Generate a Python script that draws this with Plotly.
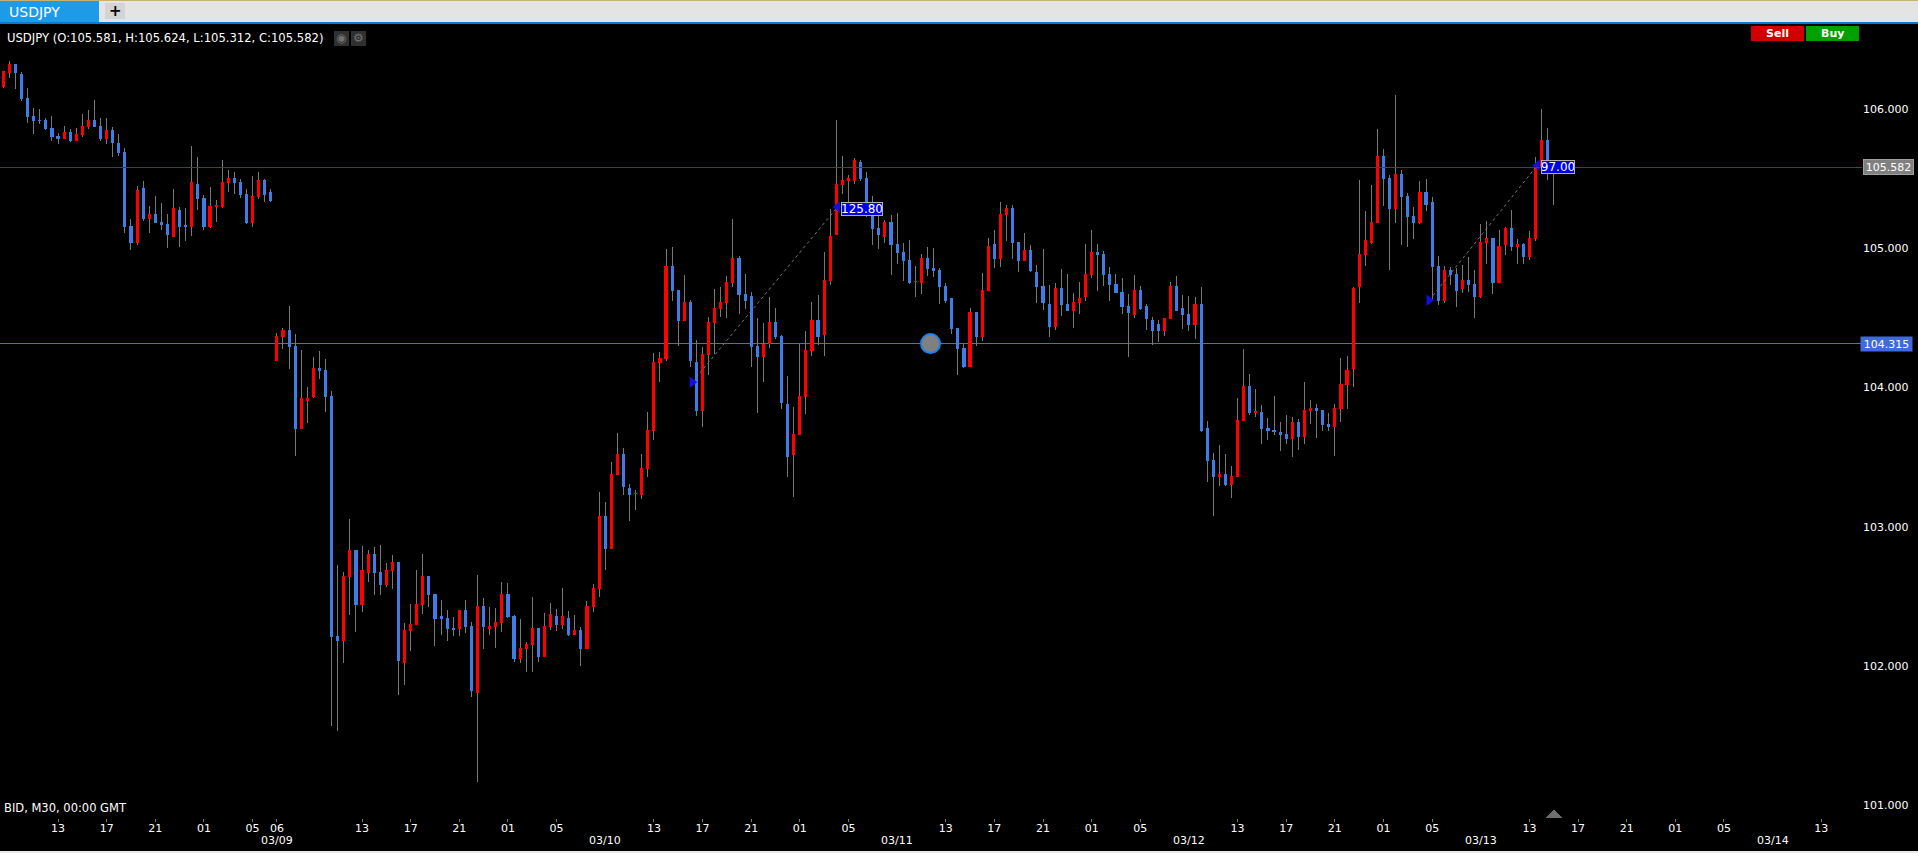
import plotly.graph_objects as go

SYMBOL = "USDJPY"
HEADER = "USDJPY (O:105.581, H:105.624, L:105.312, C:105.582)"
FOOTER = "BID, M30, 00:00 GMT"
last_price = 105.582
cross_price = 104.315

opens = [
106.165,106.266,106.323,106.251,106.079,105.950,105.921,105.921,105.863,105.806,
105.792,105.835,105.777,105.820,105.878,105.921,105.878,105.792,105.849,105.749,
105.691,105.159,105.044,105.432,105.217,105.246,105.188,105.174,105.088,105.274,
105.164,105.159,105.461,105.361,105.159,105.303,105.303,105.475,105.504,105.475,
105.389,105.188,105.375,105.490,105.404,
104.197,104.369,104.412,104.297,103.708,103.909,103.938,104.139,104.125,103.938,
102.214,102.185,102.645,102.831,102.443,102.673,102.803,102.673,102.587,102.688,
102.745,102.027,102.257,102.300,102.443,102.645,102.515,102.357,102.343,102.271,
102.271,102.400,102.285,101.811,102.429,102.271,102.285,102.314,102.515,102.357,
102.055,102.127,102.156,102.271,102.070,102.285,102.357,102.300,102.343,102.228,
102.257,102.127,102.429,102.558,103.076,102.846,103.377,103.521,103.277,103.236,
103.234,103.421,103.694,104.182,104.211,104.872,104.700,104.484,104.613,104.182,
103.837,104.240,104.470,104.570,104.613,104.757,104.929,104.671,104.656,104.297,
104.225,104.316,104.470,104.369,103.880,103.521,103.665,103.938,104.268,104.484,
104.383,104.771,105.102,105.461,105.490,105.490,105.619,105.504,105.250,105.145,
105.088,105.188,105.030,104.973,104.915,104.759,104.757,104.929,104.858,104.843,
104.728,104.642,104.426,104.283,104.153,104.541,104.369,104.700,105.030,104.929,
105.246,105.289,105.044,104.915,104.987,104.829,104.728,104.599,104.441,104.714,
104.599,104.556,104.613,104.656,104.814,104.973,104.958,104.814,104.743,104.685,
104.585,104.527,104.700,104.585,104.484,104.455,104.412,104.498,104.728,104.570,
104.527,104.455,104.599,103.708,103.478,103.363,103.377,103.306,103.363,103.765,
104.010,103.823,103.823,103.708,103.694,103.679,103.665,103.636,103.751,103.651,
103.837,103.852,103.837,103.737,103.722,103.852,104.024,104.139,104.728,104.958,
105.044,105.188,105.662,105.504,105.289,105.533,105.375,105.231,105.188,105.404,
105.332,104.872,104.628,104.843,104.814,104.714,104.771,104.743,104.656,105.044,
105.073,104.757,105.030,105.145,105.016,105.030,104.944,105.073,105.590,105.777,
105.581]

closes = [
106.268,106.323,106.266,106.079,105.950,105.921,105.916,105.863,105.806,105.792,
105.835,105.777,105.820,105.878,105.921,105.878,105.792,105.849,105.763,105.691,
105.159,105.044,105.418,105.217,105.246,105.188,105.174,105.102,105.289,105.159,
105.159,105.475,105.361,105.159,105.303,105.308,105.475,105.504,105.475,105.389,
105.188,105.375,105.490,105.389,105.346,
104.369,104.412,104.297,103.708,103.924,103.924,104.139,104.125,103.938,102.214,
102.185,102.645,102.831,102.443,102.688,102.803,102.673,102.587,102.688,102.745,
102.041,102.257,102.300,102.443,102.645,102.515,102.343,102.343,102.271,102.264,
102.400,102.285,101.825,102.429,102.285,102.285,102.314,102.515,102.357,102.055,
102.127,102.156,102.271,102.070,102.285,102.372,102.300,102.357,102.228,102.257,
102.127,102.429,102.558,103.076,102.846,103.377,103.521,103.291,103.234,103.241,
103.421,103.694,104.182,104.211,104.872,104.700,104.484,104.613,104.197,103.837,
104.240,104.470,104.570,104.613,104.757,104.929,104.671,104.628,104.297,104.225,
104.312,104.470,104.369,103.895,103.507,103.665,103.938,104.268,104.484,104.369,
104.771,105.088,105.461,105.490,105.504,105.634,105.504,105.250,105.145,105.102,
105.188,105.030,104.973,104.915,104.757,104.764,104.929,104.858,104.843,104.728,
104.628,104.426,104.283,104.153,104.541,104.369,104.700,105.016,104.929,105.246,
105.289,105.044,104.915,104.987,104.843,104.728,104.613,104.441,104.714,104.599,
104.556,104.613,104.642,104.814,104.973,104.958,104.814,104.743,104.685,104.585,
104.541,104.700,104.570,104.498,104.412,104.412,104.498,104.728,104.556,104.527,
104.455,104.599,103.694,103.478,103.363,103.377,103.306,103.363,103.765,104.010,
103.823,103.828,103.708,103.694,103.686,103.665,103.636,103.751,103.651,103.837,
103.852,103.837,103.737,103.722,103.852,104.024,104.125,104.714,104.958,105.059,
105.188,105.662,105.504,105.289,105.533,105.375,105.231,105.188,105.404,105.317,
104.872,104.628,104.843,104.814,104.700,104.771,104.743,104.656,105.044,105.073,
104.757,105.016,105.145,105.016,105.030,104.944,105.073,105.590,105.777,105.581,
105.582]

highs = [
106.273,106.345,106.323,106.266,106.148,106.007,106.000,105.935,105.950,105.825,
105.878,105.854,105.863,105.964,105.993,106.065,105.935,105.935,105.871,105.818,
105.717,105.210,105.447,105.483,105.303,105.375,105.325,105.246,105.425,105.296,
105.289,105.734,105.655,105.382,105.440,105.346,105.634,105.562,105.547,105.497,
105.425,105.519,105.547,105.497,105.425,
104.391,104.426,104.585,104.383,104.268,104.003,104.218,104.261,104.204,103.974,
102.724,102.673,103.054,102.831,102.860,102.831,102.853,102.867,102.738,102.795,
102.745,102.307,102.443,102.688,102.803,102.645,102.515,102.472,102.400,102.350,
102.400,102.472,102.314,102.652,102.487,102.422,102.415,102.601,102.594,102.364,
102.336,102.170,102.494,102.271,102.379,102.451,102.407,102.558,102.393,102.364,
102.278,102.465,102.587,103.248,103.176,103.464,103.672,103.564,103.306,103.262,
103.521,103.823,104.247,104.254,104.994,105.008,104.700,104.807,104.628,104.340,
104.290,104.506,104.707,104.721,104.800,105.210,104.944,104.814,104.685,104.498,
104.462,104.649,104.570,104.376,104.082,103.859,104.312,104.405,104.613,104.664,
104.973,105.281,105.921,105.662,105.526,105.648,105.634,105.547,105.375,105.238,
105.202,105.238,105.253,105.037,105.059,104.872,104.958,105.008,105.001,104.858,
104.750,104.642,104.426,104.319,104.570,104.541,104.822,105.073,105.131,105.332,
105.310,105.310,105.044,105.109,105.023,104.879,104.994,104.735,104.750,104.850,
104.814,104.678,104.757,105.030,105.131,105.030,104.980,104.865,104.814,104.786,
104.671,104.807,104.728,104.599,104.506,104.484,104.498,104.757,104.800,104.664,
104.656,104.649,104.721,103.758,103.528,103.586,103.521,103.435,103.924,104.276,
104.096,103.988,103.873,103.780,103.938,103.751,103.801,103.787,103.773,104.039,
103.909,103.880,103.837,103.816,103.880,104.211,104.225,104.721,105.490,105.267,
105.454,105.856,105.713,105.526,106.101,105.562,105.396,105.296,105.483,105.497,
105.368,104.944,104.872,104.865,104.858,104.879,104.937,104.843,105.174,105.195,
105.073,105.131,105.152,105.274,105.066,105.037,105.123,105.655,106.000,105.863,
105.624]

lows = [
106.151,106.223,106.144,106.057,105.899,105.820,105.892,105.849,105.770,105.749,
105.784,105.763,105.777,105.799,105.856,105.871,105.770,105.749,105.655,105.662,
105.109,104.987,105.023,105.195,105.109,105.188,105.131,105.001,105.088,105.008,
105.052,105.088,105.274,105.131,105.145,105.188,105.289,105.404,105.389,105.361,
105.174,105.152,105.353,105.332,105.332,
104.197,104.276,104.132,103.507,103.708,103.744,103.924,104.060,103.823,101.567,
101.531,102.020,102.364,102.242,102.386,102.601,102.508,102.508,102.566,102.551,
101.790,101.861,102.106,102.300,102.372,102.422,102.142,102.221,102.178,102.214,
102.214,102.235,101.775,101.164,102.120,102.221,102.127,102.242,102.343,102.027,
102.020,101.955,101.955,102.027,102.070,102.257,102.249,102.264,102.214,102.221,
101.998,102.120,102.386,102.494,102.688,102.846,103.377,103.227,103.040,103.119,
103.198,103.356,103.622,104.039,104.189,104.620,104.297,104.484,104.146,103.794,
103.715,104.089,104.240,104.506,104.498,104.721,104.527,104.563,104.146,103.816,
104.039,104.283,104.347,103.844,103.356,103.212,103.658,103.809,104.225,104.304,
104.225,104.735,105.102,105.389,105.322,105.461,105.483,105.226,105.023,104.994,
105.037,104.807,104.886,104.764,104.743,104.649,104.671,104.800,104.793,104.599,
104.606,104.383,104.089,104.139,104.153,104.297,104.333,104.700,104.858,104.865,
105.052,104.922,104.829,104.908,104.829,104.606,104.556,104.362,104.412,104.513,
104.556,104.426,104.527,104.620,104.786,104.692,104.728,104.620,104.678,104.527,
104.218,104.498,104.556,104.412,104.304,104.326,104.369,104.498,104.556,104.419,
104.405,104.347,103.679,103.320,103.076,103.291,103.291,103.205,103.363,103.758,
103.801,103.787,103.593,103.622,103.658,103.543,103.593,103.500,103.550,103.593,
103.737,103.636,103.686,103.686,103.507,103.751,103.844,104.003,104.606,104.872,
105.030,105.181,105.303,104.843,105.179,105.023,105.008,105.066,105.174,105.267,
104.628,104.592,104.606,104.735,104.577,104.678,104.685,104.498,104.642,104.886,
104.671,104.757,104.951,104.980,104.886,104.886,104.915,105.052,105.581,105.490,
105.312]

hour_ticks = [9,17,25,33,41,45,59,67,75,83,91,107,115,123,131,139,155,163,171,179,187,
              203,211,219,227,235,251,259,267,275,283,299]
hour_labels = ["13","17","21","01","05","06","13","17","21","01","05","13","17","21","01","05",
               "13","17","21","01","05","13","17","21","01","05","13","17","21","01","05","13"]
date_ticks = [45,99,147,195,243,291]
date_labels = ["03/09","03/10","03/11","03/12","03/13","03/14"]
price_ticks = [101,102,103,104,105,106]
price_labels = ["101.000","102.000","103.000","104.000","105.000","106.000"]

measure_a_x = [113.3, 137.2]
measure_a_y = [104.038, 105.296]
measure_a_label = "125.80"
measure_b_x = [234.5, 252.3]
measure_b_y = [104.626, 105.596]
measure_b_label = "97.00"
crosshair_x = [152.5]

W, H = 1918, 853
PL, PR, PT, PB = 0, 1862, 24, 818
FONT = "DejaVu Sans"
RED, BLUE, WICK = "#ff0000", "#3f7de6", "#787878"

def px(x):
    return (x - PL) / (PR - PL)

def py(y):
    return (PB - y) / (PB - PT)

xs = list(range(len(opens)))
body_hi = [max(a, b) for a, b in zip(opens, closes)]
body_lo = [min(a, b) for a, b in zip(opens, closes)]

fig = go.Figure()
fig.add_trace(go.Candlestick(
    x=xs, open=opens, high=highs, low=lows, close=closes,
    increasing=dict(line=dict(color=WICK, width=1), fillcolor=WICK),
    decreasing=dict(line=dict(color=WICK, width=1), fillcolor=WICK),
    hoverinfo="skip", showlegend=False))
fig.add_trace(go.Candlestick(
    x=xs, open=opens, high=body_hi, low=body_lo, close=closes,
    increasing=dict(line=dict(color=RED, width=1), fillcolor=RED),
    decreasing=dict(line=dict(color=BLUE, width=1), fillcolor=BLUE),
    hoverinfo="skip", showlegend=False))

for mx, my in ((measure_a_x, measure_a_y), (measure_b_x, measure_b_y)):
    fig.add_trace(go.Scatter(x=mx, y=my, mode="lines",
                             line=dict(color="#777777", width=1, dash="dot"),
                             hoverinfo="skip", showlegend=False))
    fig.add_trace(go.Scatter(x=mx, y=my, mode="markers",
                             marker=dict(symbol=["triangle-right", "triangle-left"], size=10,
                                         color="#1010e0"),
                             hoverinfo="skip", showlegend=False))

fig.add_trace(go.Scatter(x=crosshair_x, y=[cross_price], mode="markers",
                         marker=dict(size=19, color="#808080",
                                     line=dict(color="#1e80e8", width=2)),
                         hoverinfo="skip", showlegend=False))

def rect(x0, y0, x1, y1, color, layer="above", line=None):
    return dict(type="rect", xref="paper", yref="paper", x0=px(x0), x1=px(x1), y0=py(y0), y1=py(y1),
                fillcolor=color, line=dict(width=0) if line is None else dict(color=line, width=1),
                layer=layer)

shapes = [
    dict(type="line", xref="paper", yref="y", x0=0, x1=1, y0=last_price, y1=last_price,
         line=dict(color="#d80000", width=1), layer="above"),
    dict(type="line", xref="paper", yref="y", x0=0, x1=1, y0=cross_price, y1=cross_price,
         line=dict(color="#3f6fd8", width=1), layer="below"),
    rect(0, 0, W, 22, "#e4e4e4"),
    rect(0, 0, W, 1, "#c8b070"),
    rect(0, 22, W, 24, "#0a7ad0"),
    rect(0, 1, 99, 22, "#1e9be8"),
    rect(105, 3, 125, 19, "#d4d4d4"),
    rect(1751, 26, 1804, 41, "#d00000"),
    rect(1806, 26, 1859, 41, "#00a000"),
    rect(334, 31, 349, 46, "#303030"),
    rect(351, 31, 366, 46, "#303030"),
    rect(0, 851, W, 853, "#e8e8e8"),
    dict(type="path", xref="paper", yref="paper",
         path=f"M {px(1546)} {py(818)} L {px(1562)} {py(818)} L {px(1554)} {py(809)} Z",
         fillcolor="#6e6e6e", line=dict(width=0)),
]

def label(text, cx, cy, size=11, color="#ffffff", **kw):
    return dict(text=text, xref="paper", yref="paper", x=px(cx), y=py(cy), showarrow=False,
                xanchor="center", yanchor="middle",
                font=dict(family=FONT, size=size, color=color), **kw)

annotations = [
    label(SYMBOL, 34, 12, size=14),
    label("<b>+</b>", 115, 11, size=15, color="#000000"),
    label(HEADER, 165, 38, size=11.6),
    label("<b>Sell</b>", 1777, 33, size=11),
    label("<b>Buy</b>", 1832, 33, size=11),
    label("◉", 341, 38, size=12, color="#707070"),
    label("⚙", 358, 38, size=12, color="#707070"),
    label(FOOTER, 65, 808, size=11.5),
    label(measure_a_label, 862, 209, size=12, bgcolor="#0000f0", bordercolor="#b0b0b0", borderwidth=1,
          width=40, height=12, borderpad=0),
    label(measure_b_label, 1558, 167, size=12, bgcolor="#0000f0", bordercolor="#b0b0b0", borderwidth=1,
          width=32, height=12, borderpad=0),
    label(f"{last_price:.3f}", 1888.5, 167, bgcolor="#808080", bordercolor="#a0a0a0", borderwidth=1,
          width=49, height=14, borderpad=0),
    label(f"{cross_price:.3f}", 1886.5, 344, bgcolor="#4169e1", width=51, height=14, borderpad=0),
]
for t, text in zip(date_ticks, date_labels):
    annotations.append(dict(text=text, xref="x", yref="paper", x=t, y=py(841), showarrow=False,
                            xanchor="center", yanchor="middle",
                            font=dict(family=FONT, size=11, color="#ffffff")))

fig.update_layout(
    width=W, height=H, autosize=False,
    margin=dict(l=PL, r=W - PR, t=PT, b=H - PB, pad=0),
    paper_bgcolor="#000000", plot_bgcolor="#000000",
    boxgap=0.5,
    showlegend=False,
    shapes=shapes, annotations=annotations,
    font=dict(family=FONT, size=11, color="#ffffff"),
    xaxis=dict(range=[-0.543, 305.7], rangeslider=dict(visible=False), showgrid=False, zeroline=False,
               showline=False, tickmode="array", tickvals=hour_ticks, ticktext=hour_labels,
               ticks="outside", ticklen=3, tickwidth=1, tickcolor="#777777", ticklabelstandoff=-3,
               tickfont=dict(family=FONT, size=11, color="#ffffff"), tickangle=0),
    yaxis=dict(range=[100.907, 106.611], side="right", showgrid=False, zeroline=False, showline=False,
               tickmode="array", tickvals=price_ticks, ticktext=price_labels, ticks="",
               tickfont=dict(family=FONT, size=11, color="#ffffff")),
)

POST = """
document.body.style.margin='0';
document.documentElement.style.overflow='hidden';
function crisp(){
  document.querySelectorAll('.boxlayer path, .shapelayer path').forEach(function(p){
    p.style.shapeRendering='crispEdges';
  });
}
crisp(); setTimeout(crisp,50); setTimeout(crisp,300);
"""
fig.write_html("out.html", config=dict(displayModeBar=False), post_script=POST)
